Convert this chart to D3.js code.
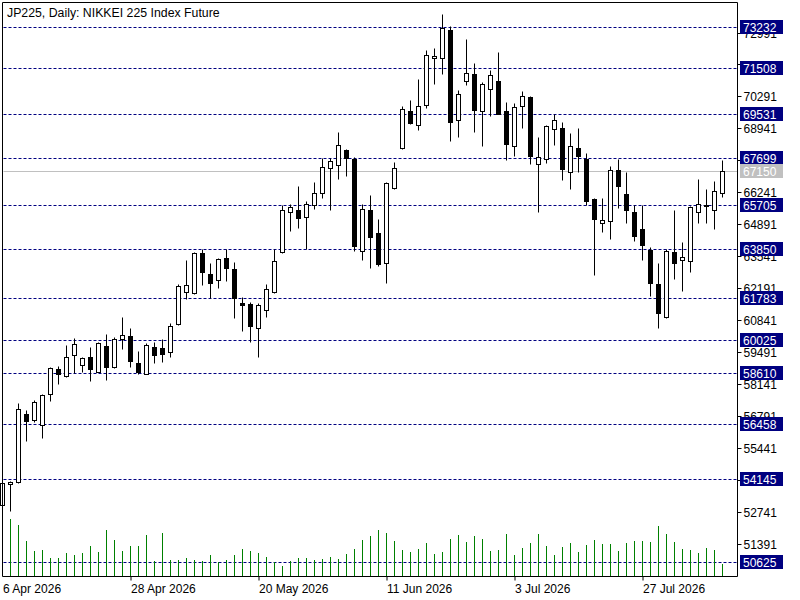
<!DOCTYPE html>
<html><head><meta charset="utf-8">
<script src="https://cdn.jsdelivr.net/npm/d3@7/dist/d3.min.js"></script>
<style>
body{margin:0;background:#fff;}
svg{display:block;font-family:"Liberation Sans",Arial,sans-serif;}
</style>
</head><body>
<svg id="chart" width="800" height="600"></svg>
<script>
const title = "JP225, Daily:  NIKKEI 225 Index Future";
const firstDay = "2026-04-06";
const lastDay = "2026-08-10";
const dateTickLabels = ["6 Apr 2026", "28 Apr 2026", "20 May 2026", "11 Jun 2026", "3 Jul 2026", "27 Jul 2026"];
const priceTicks = [51391, 52741, 54091, 55441, 56791, 58141, 59491, 60841, 62191, 63541, 64891, 66241, 67591, 68941, 70291, 71641, 72991];
const hiddenTickLabels = [54091, 67591, 71641];
const levels = [73232, 71508, 69531, 67699, 65705, 63850, 61783, 60025, 58610, 56458, 54145, 50625];
const lastPrice = 67150;

const opens = [53026, 53913, 53998, 56884, 56618, 56406, 57716, 58773, 58477, 59364,
  58942, 59280, 58671, 59757, 58883, 60040, 60180, 59039, 58587, 59715,
  59673, 59491, 60674, 62026, 61984, 63674, 62786, 62533, 63462, 62998,
  61561, 61519, 60530, 61265, 62026, 63716, 65406, 65491, 65221, 65702,
  66209, 67249, 67391, 68025, 67658, 63784, 65491, 64532, 63251, 66420,
  68110, 69687, 69082, 69927, 71897, 71897, 73109, 69294, 70954, 71250,
  69674, 70603, 70954, 69687, 68195, 69885, 70265, 67459, 67645, 68913,
  68968, 67096, 68110, 67658, 65968, 64941, 65026, 67181, 66192, 65419,
  64688, 63826, 62364, 60995, 63716, 63378, 63361, 65432, 65702, 65491, 66209];
const highs = [54100, 54030, 57336, 57053, 57475, 57729, 58870, 58912, 59800, 60095,
  59305, 59715, 59939, 60264, 60137, 60982, 60518, 59546, 59871, 59939,
  60053, 60741, 62377, 63391, 63742, 63843, 63264, 63476, 63843, 63306,
  61840, 61629, 61561, 62377, 63843, 65728, 65757, 66518, 65896, 66674,
  67671, 67671, 68799, 68080, 67743, 65745, 66137, 65123, 66687, 67532,
  69898, 70151, 71038, 72264, 72336, 73785, 73265, 70574, 72729, 71715,
  70883, 71419, 72150, 70067, 70012, 70532, 70321, 68588, 69096, 69547,
  69209, 68744, 68939, 67911, 66023, 65998, 67363, 67658, 67109, 65702,
  65702, 63953, 63251, 63843, 65491, 64139, 65673, 66800, 66391, 66729, 67616];
const lows = [52700, 52798, 53960, 55756, 56560, 55882, 57433, 58139, 58440, 58604,
  58659, 58291, 58640, 58333, 58840, 59643, 58883, 58587, 58560, 59052,
  59081, 59305, 60640, 61730, 61950, 62347, 61772, 62220, 62516, 60953,
  60403, 59939, 59305, 60995, 61990, 63680, 64629, 64755, 63869, 65558,
  66023, 65516, 66826, 66911, 63784, 63403, 63066, 63150, 62431, 66380,
  68070, 69108, 68854, 69784, 70798, 71221, 68390, 68558, 70756, 68787,
  68178, 69445, 69530, 67587, 67756, 68939, 67447, 65432, 67476, 68220,
  66742, 66378, 67096, 65702, 62757, 64587, 64278, 65601, 64967, 64206,
  63378, 61882, 60505, 60940, 62600, 62094, 62896, 64941, 64941, 64688, 66065];
const closes = [53956, 54010, 57083, 56601, 57378, 57687, 58815, 58574, 59280, 59829,
  59237, 58798, 59871, 58883, 60040, 60209, 59136, 58671, 59786, 59389,
  59432, 60589, 62280, 62322, 63674, 62871, 62431, 63433, 63065, 61798,
  61502, 60615, 61477, 62152, 63336, 65491, 65617, 65178, 65745, 66222,
  67308, 67561, 68236, 67688, 63995, 65533, 64375, 63234, 66632, 67265,
  69771, 69150, 69885, 72040, 71998, 73194, 69222, 70392, 71279, 69700,
  70827, 71194, 69560, 68262, 69843, 70307, 67773, 67730, 69053, 69306,
  67248, 68208, 67772, 65896, 65136, 65068, 67181, 66530, 65504, 64418,
  64025, 62406, 61164, 63771, 63251, 63505, 65617, 65770, 65660, 66294, 67150];
const volumes = [40, 57, 51, 35, 25, 26, 18, 18, 23, 21,
  23, 30, 24, 46, 36, 25, 30, 30, 41, 15,
  43, 16, 16, 18, 16, 15, 21, 14, 16, 21,
  27, 25, 23, 19, 14, 10, 15, 18, 18, 16,
  17, 19, 17, 22, 27, 36, 40, 46, 43, 35,
  26, 24, 27, 33, 22, 24, 37, 41, 34, 40,
  37, 25, 26, 42, 21, 28, 33, 42, 30, 21,
  29, 33, 24, 31, 36, 32, 32, 25, 33, 35,
  35, 34, 50, 42, 34, 27, 26, 23, 28, 26, 12];

const parse = d3.timeParse("%Y-%m-%d");
const fmt = d3.timeFormat("%-d %b %Y");
const dates = d3.timeDay.range(parse(firstDay), d3.timeDay.offset(parse(lastDay), 1))
  .filter(d => d.getDay() !== 0 && d.getDay() !== 6);
const bars = dates.map((d, i) => ({date: d, o: opens[i], h: highs[i], l: lows[i], c: closes[i], v: volumes[i]}));

const L = 2.5, R = 737.5, T = 2.5, B = 576.5;
const svg = d3.select("#chart");
const x = d3.scalePoint().domain(dates.map(d => +d)).range([2.5, 722.5]);
const y = d3.scaleLinear().domain([50039, 74280]).range([576, 2]);
const yv = d3.scaleLinear().domain([0, 100]).range([576, 476]);
const py = v => Math.round(y(v)) + 0.5;

svg.append("rect").attr("width", 800).attr("height", 600).attr("fill", "#fff");

const plot = svg.append("g");
// level lines
plot.selectAll("line.lvl").data(levels).join("line")
  .attr("x1", L + 1).attr("x2", R).attr("y1", d => py(d)).attr("y2", d => py(d))
  .attr("stroke", "#000080").attr("stroke-width", 1).attr("stroke-dasharray", "3,2");
plot.append("line").attr("x1", L + 1).attr("x2", R).attr("y1", py(lastPrice)).attr("y2", py(lastPrice))
  .attr("stroke", "#c0c0c0").attr("stroke-width", 1);

// volumes
plot.selectAll("line.vol").data(bars).join("line")
  .attr("x1", d => x(+d.date)).attr("x2", d => x(+d.date))
  .attr("y1", 576).attr("y2", d => Math.round(yv(d.v)))
  .attr("stroke", "#008000").attr("stroke-width", 1);

// candles
const cg = plot.selectAll("g.candle").data(bars).join("g");
cg.append("line")
  .attr("x1", d => x(+d.date)).attr("x2", d => x(+d.date))
  .attr("y1", d => py(d.h)).attr("y2", d => py(d.l))
  .attr("stroke", "#000").attr("stroke-width", 1);
cg.append("rect")
  .attr("x", d => x(+d.date) - 2).attr("width", 4)
  .attr("y", d => py(Math.max(d.o, d.c)))
  .attr("height", d => Math.max(0, py(Math.min(d.o, d.c)) - py(Math.max(d.o, d.c))))
  .attr("fill", d => d.c >= d.o ? "#fff" : "#000")
  .attr("stroke", "#000").attr("stroke-width", 1);

// frame
svg.append("path")
  .attr("d", `M${L},${B}V${T}H${R}V${B}H${L}`)
  .attr("fill", "none").attr("stroke", "#000").attr("stroke-width", 1);

// title
svg.append("text").attr("x", 7).attr("y", 16.5).attr("font-size", 12.3).attr("fill", "#000").text(title);

// price axis
const ya = svg.append("g").attr("transform", `translate(${R},0)`)
  .call(d3.axisRight(y).tickValues(priceTicks).tickSize(4).tickPadding(2)
    .tickFormat(d => hiddenTickLabels.includes(d) ? "" : d3.format("d")(d)));
ya.select(".domain").remove();
ya.attr("font-family", null).attr("font-size", null);
ya.selectAll(".tick").attr("transform", d => `translate(0,${py(d)})`);
ya.selectAll(".tick text").attr("font-size", 12).attr("fill", "#000").attr("dy", "0.34em");
ya.selectAll(".tick line").attr("stroke", "#000");

// date axis
const tickDates = dates.filter(d => dateTickLabels.includes(fmt(d)));
const xa = svg.append("g").attr("transform", `translate(0,${B})`)
  .call(d3.axisBottom(x).tickValues(tickDates.map(d => +d)).tickSize(4).tickPadding(4).tickFormat(d => fmt(new Date(d))));
xa.select(".domain").remove();
xa.attr("font-family", null).attr("font-size", null);
xa.selectAll(".tick text").attr("font-size", 12).attr("fill", "#000").attr("text-anchor", "start").attr("dy", "0.71em").attr("x", 0);
xa.selectAll(".tick line").attr("stroke", "#000");
xa.selectAll(".tick").filter(d => d === +dates[0]).select("line").remove();

// level boxes
const lb = svg.selectAll("g.lb").data(levels).join("g");
lb.append("rect").attr("x", 740).attr("y", d => py(d) - 7.5).attr("width", 43).attr("height", 14).attr("fill", "#000080");
lb.append("text").attr("x", 743).attr("y", d => py(d) + 4.5).attr("font-size", 12).attr("fill", "#fff").text(d => d);
const gb = svg.append("g");
gb.append("rect").attr("x", 740).attr("y", py(lastPrice) - 7.5).attr("width", 43).attr("height", 14).attr("fill", "#c0c0c0");
gb.append("text").attr("x", 743).attr("y", py(lastPrice) + 4.5).attr("font-size", 12).attr("fill", "#fff").text(lastPrice);
</script>
</body></html>
